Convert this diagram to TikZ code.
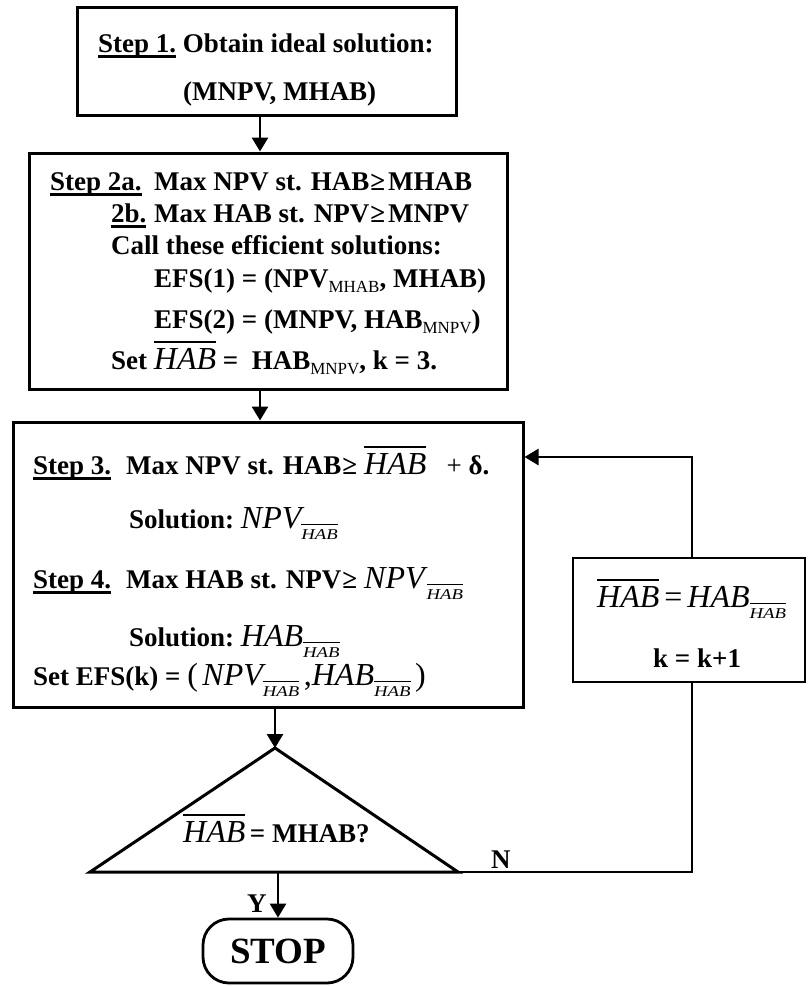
\documentclass[tikz,border=0pt]{standalone}
\usepackage{fontspec}
\setmainfont{Liberation Serif}
\usepackage{graphicx}
\usetikzlibrary{arrows.meta}
\newbox\olbx
\newcommand\olbox[3]{\setbox\olbx\hbox{#3}\rlap{\raisebox{\dimexpr\ht\olbx+#1\relax}{\rule{\wd\olbx}{#2}}}\box\olbx}
\newcommand\ulin[1]{\setbox\olbx\hbox{#1}\rlap{\rule[-6pt]{\wd\olbx}{2.8pt}}\box\olbx}
\newcommand\bigit{\fontsize{32}{32}\selectfont\mdseries\itshape}
\newcommand\ihab{\olbox{5pt}{1.6pt}{\bigit HAB}}
\newcommand\shab{\raisebox{-11pt}{\olbox{4pt}{1.2pt}{\scalebox{1.25}[1]{\fontsize{15}{15}\selectfont\mdseries\itshape HAB}}}}
\newcommand\inpv{{\bigit NPV}}
\newcommand\ihabp{{\bigit HAB}}
\newcommand\subr[1]{\raisebox{-5pt}{\fontsize{17}{17}\selectfont\mdseries #1}}
\newcommand\bigup[1]{{\fontsize{32}{32}\selectfont\mdseries #1}}
\begin{document}
\begin{tikzpicture}[x=1pt,y=-1pt,
  box/.style={draw, line width=3pt, inner sep=0pt},
  txt/.style={anchor=base west, inner sep=0pt, font=\fontsize{27}{32}\selectfont\bfseries},
  conn/.style={line width=2.6pt, line join=miter},
  arr/.style={conn, -{Triangle[length=14pt,width=16pt]}}]
\useasboundingbox (0,0) rectangle (807,986);
% boxes
\node[box, minimum width=379, minimum height=108] (s1) at (266.5,61) {};
\node[box, minimum width=478, minimum height=236] (s2) at (268,271) {};
\node[box, minimum width=510, minimum height=285] (s3) at (268,564.5) {};
\node[box, line width=2.8pt, minimum width=232, minimum height=124] (rb) at (689,620) {};
\node[draw, line width=2.8pt, rounded corners=26pt, minimum width=150, minimum height=64, inner sep=0pt,
      font=\fontsize{37}{37}\selectfont\bfseries] (stop) at (278,951) {STOP};
% triangle
\coordinate (tt) at (275,748);
\coordinate (tl) at (90,872);
\coordinate (tr) at (458,872);
\draw[line width=3pt, line join=miter] (tl) -- (tt) -- (tr) -- cycle;
% guide coordinates
\coordinate (c1) at (260,0);
\coordinate (rbx) at (692,0);
\coordinate (ay) at (0,457);
% box 1 text
\node[txt] (t1a) at (98,52) {\ulin{Step 1.} Obtain ideal solution:};
\node[txt] (t1b) at (183,100) {(MNPV, MHAB)};
% box 2 text
\node[txt] (t2a) at (50,190) {\ulin{Step 2a.}};
\node[txt] (t2b) at (154,190) {Max NPV st. HAB\kern1pt≥\kern3pt MHAB};
\node[txt] (t2c) at (111,222) {\ulin{2b.}};
\node[txt] (t2d) at (154,222) {Max HAB st. NPV\kern1pt≥\kern3pt MNPV};
\node[txt] (t2e) at (111,254) {Call these efficient solutions:};
\node[txt] (t2f) at (154,287) {EFS(1) = (NPV\subr{MHAB}, MHAB)};
\node[txt] (t2g) at (154,328) {EFS(2) = (MNPV, HAB\subr{MNPV})};
\node[txt] (t2h) at (111,369) {Set \ihab{} =\ \ HAB\subr{MNPV}, k = 3.};
% box 3 text
\node[txt] (t3a) at (33,474) {\ulin{Step 3.}};
\node[txt] (t3b) at (126,474) {Max NPV st. HAB\kern1pt≥\kern7pt\ihab\ \ \ {\mdseries +} δ.};
\node[txt] (t3c) at (129,528) {Solution:\ \inpv\shab};
\node[txt] (t3d) at (33,588) {\ulin{Step 4.}};
\node[txt] (t3e) at (126,588) {Max HAB st. NPV\kern1pt≥\kern7pt\inpv\kern2pt\shab};
\node[txt] (t3f) at (129,646) {Solution:\ \ihabp\shab};
\node[txt] (t3g) at (33,685) {Set EFS(k) = \bigup{(}\,\inpv\shab\,\bigup{,}\ihabp\shab\,\bigup{)}};
% right box text
\node[txt] (r1) at (597,607) {\ihab\kern5pt\bigup{=}\kern5pt\ihabp\shab};
\node[txt] (r2) at (653,667) {k = k+1};
% decision text
\node[txt] (d1) at (183,842) {\ihab\,= MHAB?};
\node[txt] (ln) at (491,868) {N};
\node[txt] (ly) at (247,912) {Y};
% connectors
\draw[arr] (s1.south -| c1) -- (s2.north -| c1);
\draw[arr] (s2.south -| c1) -- (s3.north -| c1);
\draw[arr] (s3.south -| tt) -- (tt);
\draw[arr] (stop.north |- tl) -- (stop.north);
\draw[conn] (tr) -- (tr -| rbx) -- (rb.south -| rbx);
\draw[arr] (rb.north -| rbx) -- (rbx |- ay) -- (s3.east |- ay);
\end{tikzpicture}
\end{document}
